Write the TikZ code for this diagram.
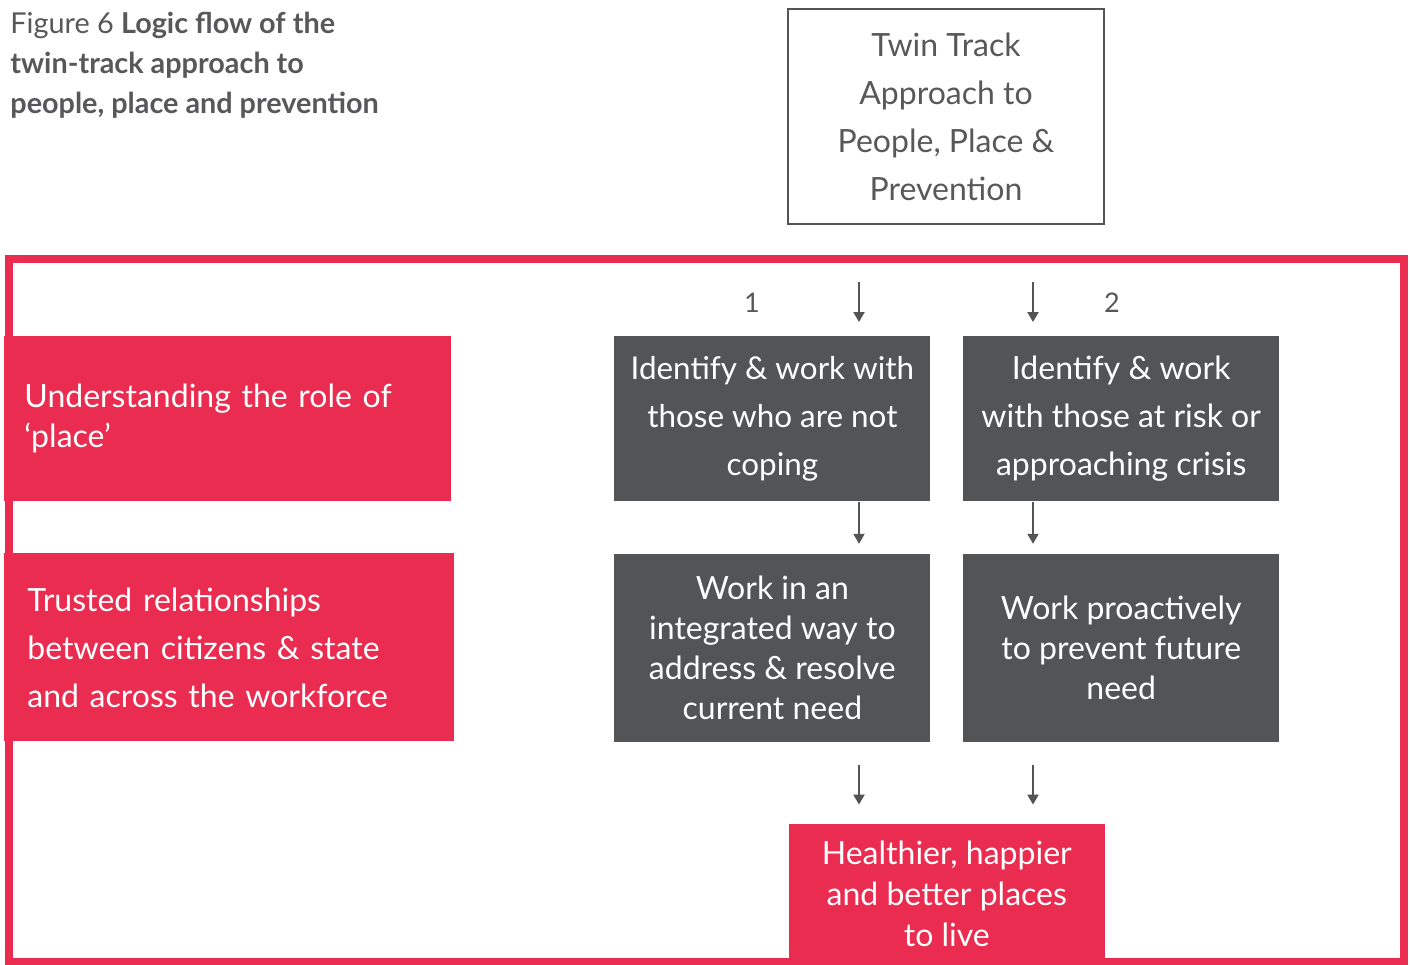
\documentclass[tikz,border=0pt]{standalone}
\usepackage{fontspec}
\setmainfont{Lato}
\usepackage{xcolor}
\usetikzlibrary{positioning,calc,arrows.meta}

\definecolor{figred}{RGB}{234,44,80}
\definecolor{figgrey}{RGB}{83,84,86}
\definecolor{figtext}{RGB}{88,88,90}

\begin{document}
\begin{tikzpicture}[x=0.5pt, y=-0.5pt,
                    red block/.style={rectangle, fill=figred, text=white, inner sep=0pt},
                    grey block/.style={rectangle, fill=figgrey, text=white, inner sep=0pt, minimum width=158pt, align=center},
                    twin block/.style={rectangle, draw=figgrey, line width=1pt, inner sep=0pt, minimum width=158pt, minimum height=107.5pt, align=center, text=figtext},
                    flow arrow/.style={-{Triangle[length=5pt, width=5.5pt]}, line width=1pt, draw=figgrey}]

    \useasboundingbox (0,0) rectangle (1410,965);

    % title
    \node [anchor=north west, inner sep=0pt, align=left, text=figtext, font=\fontsize{14.4}{20}\selectfont] (title) at (10,12)
        {Figure 6 \textbf{Logic flow of the}\\\textbf{twin-track approach to}\\\textbf{people, place and prevention}};

    \node [twin block, anchor=north, font=\fontsize{16}{24}\selectfont] (twin) at (946,8)
        {Twin Track\\Approach to\\People, Place \&\\Prevention};

    % red frame
    \draw [figred, line width=4pt] (8.5,258.5) rectangle (1404,962);

    % left column
    \node [red block, anchor=north west, minimum height=82.5pt, inner xsep=10pt, text width=203.5pt, align=left, font=\fontsize{16}{20}\selectfont] (place) at (4,336)
        {Understanding the role of\\`place'};
    \node [red block, anchor=north west, minimum height=94pt, inner xsep=11.5pt, text width=202pt, align=left, font=\fontsize{16}{24}\selectfont] (trust) at (4,553)
        {Trusted relationships\\between citizens \& state\\and across the workforce};

    % the two tracks
    \node [grey block, anchor=north west, minimum height=82.5pt, font=\fontsize{15.7}{24}\selectfont] (identA) at (614,336)
        {Identify \& work with\\those who are not\\coping};
    \node [grey block, right=16pt of identA, minimum height=82.5pt, font=\fontsize{16}{24}\selectfont] (identB)
        {Identify \& work\\with those at risk or\\approaching crisis};
    \node [grey block, below=26pt of identA, minimum height=94pt, font=\fontsize{16}{20}\selectfont] (workA)
        {Work in an\\integrated way to\\address \& resolve\\current need};
    \node [grey block, right=16pt of workA, minimum height=94pt, font=\fontsize{16}{20}\selectfont] (workB)
        {Work proactively\\to prevent future\\need};

    \coordinate (mid) at ($(workA.south east)!0.5!(workB.south west)$);
    \node [red block, below=40.5pt of mid, minimum width=158pt, minimum height=70pt, align=center, font=\fontsize{16}{20.5}\selectfont] (outcome)
        {Healthier, happier\\and better places\\to live};

    % arrows
    \coordinate (in1) at (859,282);
    \coordinate (in2) at (1033,282);
    \node [text=figtext, font=\fontsize{13.5}{16}\selectfont, inner sep=0pt] (lab1) at (752,303) {1};
    \node [text=figtext, font=\fontsize{13.5}{16}\selectfont, inner sep=0pt] (lab2) at (1112,303) {2};

    \draw [flow arrow] (in1) -- ([yshift=7pt]identA.north -| in1);
    \draw [flow arrow] (in2) -- ([yshift=7pt]identB.north -| in2);
    \draw [flow arrow] (identA.south -| in1) -- ([yshift=5pt]workA.north -| in1);
    \draw [flow arrow] (identB.south -| in2) -- ([yshift=5pt]workB.north -| in2);
    \draw [flow arrow] ([yshift=-11pt]workA.south -| in1) -- ([yshift=9.5pt]outcome.north -| in1);
    \draw [flow arrow] ([yshift=-11pt]workB.south -| in2) -- ([yshift=9.5pt]outcome.north -| in2);

\end{tikzpicture}
\end{document}
